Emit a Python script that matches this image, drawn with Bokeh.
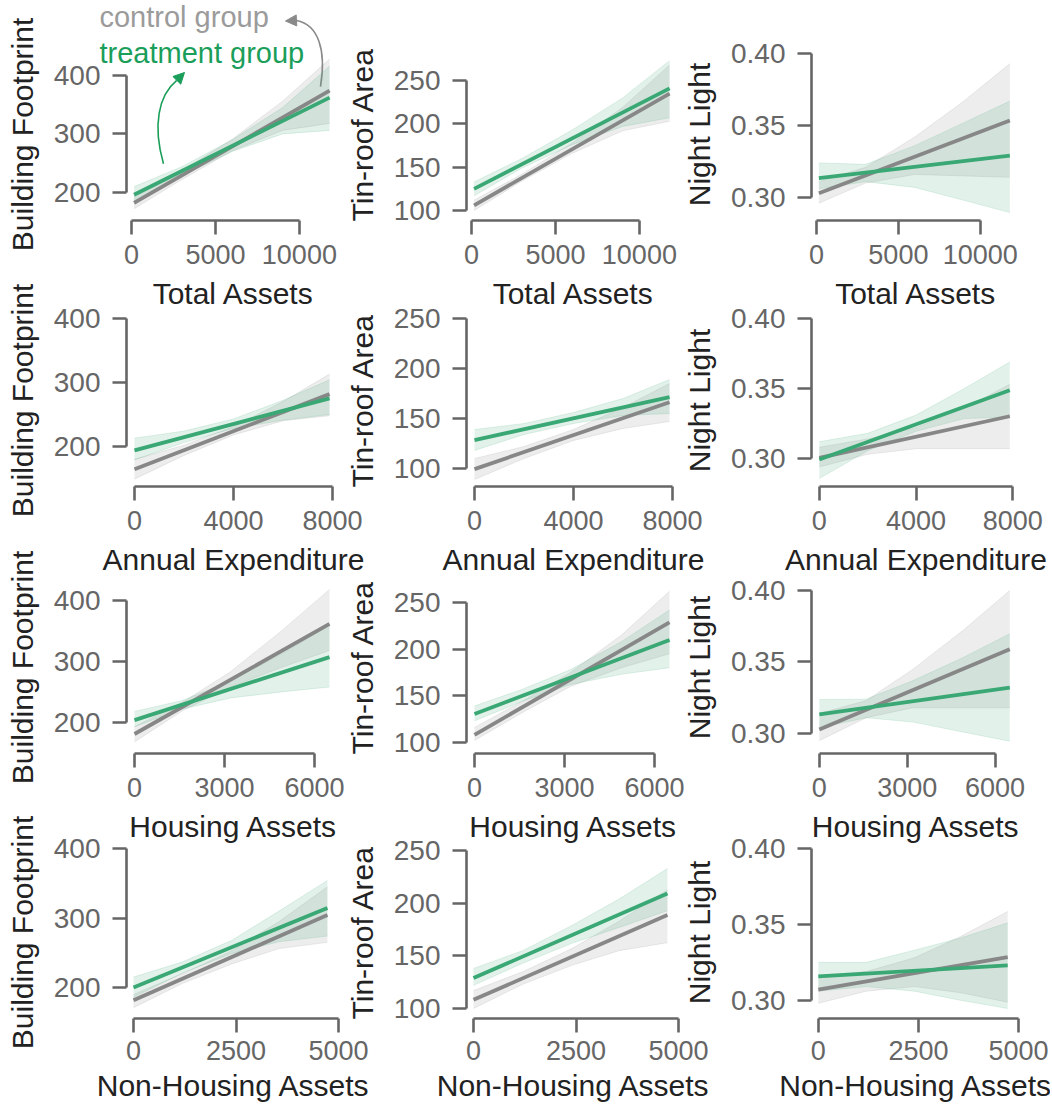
from bokeh.plotting import figure
from bokeh.layouts import row, column
from bokeh.models import FixedTicker, NumeralTickFormatter, Label, Arrow, NormalHead, Range1d
from bokeh.embed import file_html
from bokeh.resources import INLINE

FONT = "Liberation Sans"
CTRL = "#878787"
TREAT = "#3aa874"
CTRL_TEXT = "#9b9b9b"
TREAT_TEXT = "#1a9e5a"
SPINE = "#666666"

# predictors (rows) and outcomes (columns)
x_labels = ["Total Assets", "Annual Expenditure", "Housing Assets", "Non-Housing Assets"]
y_labels = ["Building Footprint", "Tin-roof Area", "Night Light"]

x_ticks = [[0, 5000, 10000], [0, 4000, 8000], [0, 3000, 6000], [0, 2500, 5000]]
y_ticks = [[200, 300, 400], [100, 150, 200, 250], [0.30, 0.35, 0.40]]
y_formats = ["0", "0", "0.00"]

x_ranges = [(-300, 12450), (-323, 8323), (-267, 6867), (-171, 5049)]
y_ranges = [
    [(152, 446), (88.5, 287), (0.284, 0.4035)],
    [(137.5, 406), (82, 254), (0.280, 0.4029)],
    [(149, 431), (88, 272.5), (0.286, 0.4063)],
    [(155.4, 403), (90.5, 254), (0.288, 0.4013)],
]

# x positions where the confidence bands are sampled (first/last = fit extent)
band_x = [
    [150, 3000, 6000, 9000, 11800],
    [0, 2000, 4000, 6000, 7880],
    [0, 1600, 3200, 4900, 6500],
    [0, 1200, 2400, 3550, 4730],
]

# fitted regression lines: (value at first x, value at last x)
ctrl_fit = [
    [(182, 374), (106, 235), (0.303, 0.3535)],
    [(164.5, 281.7), (99.4, 166.3), (0.3004, 0.3302)],
    [(181, 361.6), (108, 228.6), (0.3028, 0.3589)],
    [(181.7, 304.3), (108.3, 188.8), (0.307, 0.3285)],
]
treat_fit = [
    [(196, 362), (125, 241), (0.3135, 0.329)],
    [(194, 275), (128.4, 171.3), (0.2993, 0.3488)],
    [(203.8, 307), (130.4, 209.7), (0.3133, 0.3321)],
    [(200, 314.5), (128.9, 209.4), (0.3158, 0.323)],
]

# 95% confidence bands, control group
ctrl_lo = [
    [[172, 222, 271, 306, 318], [100, 134, 166, 192, 203], [0.296, 0.310, 0.316, 0.315, 0.314]],
    [[149, 186, 218, 240, 248], [89, 110, 128, 140, 147], [0.294, 0.303, 0.307, 0.307, 0.307]],
    [[168, 219, 258, 290, 318], [102, 132, 160, 180, 195], [0.295, 0.311, 0.318, 0.318, 0.318]],
    [[171, 206, 234, 256, 265], [100, 123, 141, 155, 162.5], [0.298, 0.306, 0.309, 0.305, 0.2987]],
]
ctrl_hi = [
    [[193, 237, 291, 356, 428], [112, 142, 178, 219, 268], [0.311, 0.321, 0.342, 0.367, 0.393]],
    [[180, 202, 231, 270, 313], [110, 122, 139, 161, 185], [0.308, 0.314, 0.322, 0.336, 0.353]],
    [[193, 233, 283, 350, 418], [116, 144, 175, 215, 262], [0.314, 0.323, 0.345, 0.372, 0.400]],
    [[190, 220, 253, 295, 345], [117, 135, 157, 183, 213], [0.316, 0.319, 0.328, 0.342, 0.3585]],
]
# 95% confidence bands, treatment group
treat_lo = [
    [[184, 229, 270, 300, 306], [117, 149, 176, 197, 207], [0.306, 0.311, 0.307, 0.298, 0.2895]],
    [[179, 206, 228, 241, 250], [118, 134, 145, 153, 155], [0.2857, 0.3055, 0.3195, 0.3285, 0.3297]],
    [[193, 222, 240, 250, 258], [123, 144, 162, 173, 180], [0.304, 0.311, 0.308, 0.301, 0.2946]],
    [[186, 221, 249, 266, 274], [122, 143, 162, 177, 193], [0.306, 0.309, 0.306, 0.300, 0.2946]],
]
treat_hi = [
    [[210, 244, 290, 345, 416], [133, 160, 193, 230, 273], [0.324, 0.323, 0.336, 0.352, 0.367]],
    [[213, 224, 243, 272, 304], [139, 145, 156, 170, 189], [0.312, 0.318, 0.331, 0.350, 0.369]],
    [[218, 236, 268, 312, 359], [139, 157, 178, 208, 242], [0.3237, 0.324, 0.337, 0.353, 0.3698]],
    [[215, 237, 268, 310, 354], [138, 155, 179, 204, 233], [0.325, 0.325, 0.333, 0.341, 0.351]],
]

# layout of the panel grid (pixels)
FRAME_LEFT, FRAME_W = 126, 214
FRAME_TOP, FRAME_H = 48, 172
FIG_W = 370
ROW_HEIGHTS = [320, 320, 320, 308]
ROW_SHIFT = [0, -54, -53, -55]
COL_SHIFT = [0, -30, -30]
X_STANDOFF = [(10, 10), (10, 10), (10, 10), (8, 6)]
OVERLAY_W, OVERLAY_H = 340, 230


def style_axes(p, r, c):
    for ax in (p.xaxis[0], p.yaxis[0]):
        ax.axis_line_color = SPINE
        ax.axis_line_width = 2.6
        ax.major_tick_line_color = SPINE
        ax.major_tick_line_width = 2.6
        ax.major_tick_out = 14
        ax.major_tick_in = 0
        ax.minor_tick_line_color = None
        ax.major_label_text_font = FONT
        ax.major_label_text_color = SPINE
        ax.axis_label_text_font = FONT
        ax.axis_label_text_font_size = "30px"
        ax.axis_label_text_font_style = "normal"
        ax.axis_label_text_color = "#222222"
    xa, ya = p.xaxis[0], p.yaxis[0]
    xa.major_label_text_font_size = "27px"
    xa.ticker = FixedTicker(ticks=x_ticks[r])
    xa.bounds = (x_ticks[r][0], x_ticks[r][-1])
    xa.formatter = NumeralTickFormatter(format="0")
    xa.axis_label = x_labels[r]
    xa.major_label_standoff, xa.axis_label_standoff = X_STANDOFF[r]
    ya.major_label_text_font_size = "28px"
    ya.ticker = FixedTicker(ticks=y_ticks[c])
    ya.bounds = (y_ticks[c][0], y_ticks[c][-1])
    ya.formatter = NumeralTickFormatter(format=y_formats[c])
    ya.axis_label = y_labels[c]
    ya.major_label_standoff = 12
    ya.axis_label_standoff = 12


def panel(r, c):
    h = ROW_HEIGHTS[r]
    p = figure(width=FIG_W, height=h,
               x_range=Range1d(*x_ranges[r]), y_range=Range1d(*y_ranges[r][c]),
               output_backend="svg", toolbar_location=None,
               min_border_left=FRAME_LEFT, min_border_right=FIG_W - FRAME_LEFT - FRAME_W,
               min_border_top=FRAME_TOP, min_border_bottom=h - FRAME_TOP - FRAME_H,
               background_fill_alpha=0, border_fill_alpha=0,
               outline_line_color=None, margin=(0, 0, 0, COL_SHIFT[c]))
    p.xgrid.visible = False
    p.ygrid.visible = False
    style_axes(p, r, c)

    bx = band_x[r]
    for lo, hi, col in ((ctrl_lo, ctrl_hi, CTRL), (treat_lo, treat_hi, TREAT)):
        p.varea(x=bx, y1=lo[r][c], y2=hi[r][c], fill_color=col, fill_alpha=0.15)
        p.line(bx, lo[r][c], line_color=col, line_alpha=0.15, line_width=1)
        p.line(bx, hi[r][c], line_color=col, line_alpha=0.15, line_width=1)
    ends = [bx[0], bx[-1]]
    p.line(ends, list(ctrl_fit[r][c]), line_color=CTRL, line_width=3.8)
    p.line(ends, list(treat_fit[r][c]), line_color=TREAT, line_width=3.8)
    return p


def overlay():
    # transparent layer over the first panel that shares its data scale,
    # so the group names and pointers are not clipped by the panel frame
    x0, x1 = x_ranges[0]
    y0, y1 = y_ranges[0][0]
    sx = (x1 - x0) / FRAME_W
    sy = (y1 - y0) / FRAME_H
    xr = Range1d(x0 - FRAME_LEFT * sx, x0 + (OVERLAY_W - FRAME_LEFT) * sx)
    yr = Range1d(y0 - (OVERLAY_H - FRAME_TOP - FRAME_H) * sy, y1 + FRAME_TOP * sy)
    p = figure(width=OVERLAY_W, height=OVERLAY_H, x_range=xr, y_range=yr,
               x_axis_type=None, y_axis_type=None, min_border=0,
               output_backend="svg", toolbar_location=None,
               background_fill_alpha=0, border_fill_alpha=0, outline_line_color=None)
    p.grid.visible = False

    p.add_layout(Label(x=-1909, y=499, text="control group", text_font=FONT,
                       text_font_size="29px", text_color=CTRL_TEXT,
                       text_baseline="alphabetic"))
    p.add_layout(Label(x=-1909, y=439, text="treatment group", text_font=FONT,
                       text_font_size="29px", text_color=TREAT_TEXT,
                       text_baseline="alphabetic"))
    p.bezier(x0=[11258], y0=[381], x1=[9828], y1=[494],
             cx0=[11616], cy0=[443], cx1=[11139], cy1=[487],
             line_color="#8a8a8a", line_width=1.6)
    p.add_layout(Arrow(end=NormalHead(size=11, fill_color="#8a8a8a", line_color="#8a8a8a"),
                       x_start=9828, y_start=494, x_end=9173, y_end=493,
                       line_color="#8a8a8a", line_width=1.6))
    p.bezier(x0=[1904], y0=[249], x1=[2679], y1=[391],
             cx0=[1249], cy0=[314], cx1=[1607], cy1=[366],
             line_color=TREAT_TEXT, line_width=1.6)
    p.add_layout(Arrow(end=NormalHead(size=11, fill_color=TREAT_TEXT, line_color=TREAT_TEXT),
                       x_start=2679, y_start=391, x_end=3156, y_end=405,
                       line_color=TREAT_TEXT, line_width=1.6))
    return p


children = [overlay()]
for r in range(4):
    figs = [panel(r, c) for c in range(3)]
    shift = -OVERLAY_H if r == 0 else ROW_SHIFT[r]
    children.append(row(*figs, margin=(shift, 0, 0, 0)))

layout = column(*children)
open("out.html", "w").write(file_html(layout, INLINE))
